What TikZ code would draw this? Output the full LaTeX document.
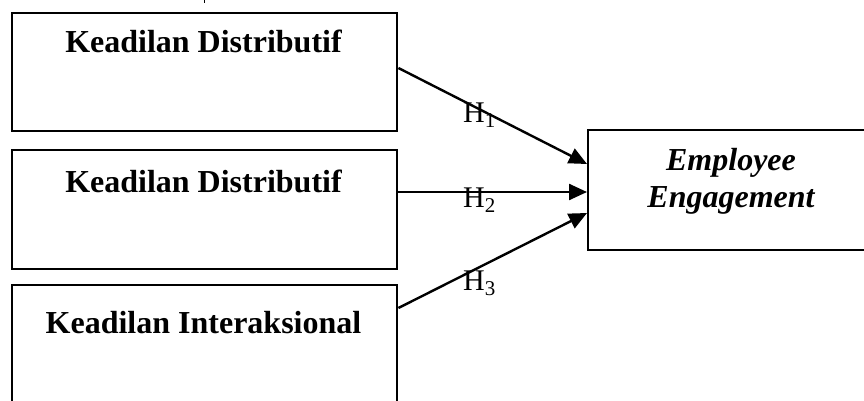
\documentclass[tikz,border=0pt]{standalone}
\usepackage{fontspec}
\setmainfont{Liberation Serif}
\usetikzlibrary{arrows.meta,calc}
\begin{document}
\begin{tikzpicture}[x=1pt,y=-1pt,
  boxstyle/.style={draw,line width=2.4pt,rectangle,inner sep=0pt,anchor=north west},
  boxtext/.style={font=\fontsize{32}{38}\selectfont\bfseries,anchor=base,inner sep=0pt},
  engtext/.style={font=\fontsize{32}{37}\selectfont\bfseries\itshape,align=center,inner sep=0pt},
  htext/.style={font=\fontsize{30}{35}\selectfont,anchor=base west,inner sep=0pt},
  conn/.style={line width=2.4pt,-{Triangle[length=18pt,width=16pt]}}]
\useasboundingbox (0,0) rectangle (864,401);
\clip (0,0) rectangle (864,401);
\node[boxstyle,minimum width=385pt,minimum height=118pt] (b1) at (11,12) {};
\node[boxstyle,minimum width=385pt,minimum height=119pt] (b2) at (11,149) {};
\node[boxstyle,minimum width=385pt,minimum height=160pt] (b3) at (11,284) {};
\node[boxstyle,minimum width=320pt,minimum height=120pt] (eng) at (587,129) {};
\node[boxtext] (t1) at (203.5,53) {Keadilan Distributif};
\node[boxtext] (t2) at (203.5,192) {Keadilan Distributif};
\node[boxtext] (t3) at (203.5,333) {Keadilan Interaksional};
\node[engtext,anchor=base] (e1) at (731,170) {Employee};
\node[engtext,anchor=base] (e2) at (731,207) {Engagement};
\draw[conn] ([yshift=-56pt]b1.north east) -- ([yshift=-35pt]eng.north west);
\draw[conn] ([yshift=-43pt]b2.north east) -- ([yshift=-63pt]eng.north west);
\draw[conn] ([yshift=-24pt]b3.north east) -- ([yshift=-84pt]eng.north west);
\node[htext] (h1) at (463,122) {H\textsubscript{1}};
\node[htext] (h2) at (463,207) {H\textsubscript{2}};
\node[htext] (h3) at (463,290) {H\textsubscript{3}};
\coordinate (tk1) at (204,0);
\coordinate (tk2) at (204,3);
\draw[line width=0.6pt] (tk1) -- (tk2);
\end{tikzpicture}
\end{document}
